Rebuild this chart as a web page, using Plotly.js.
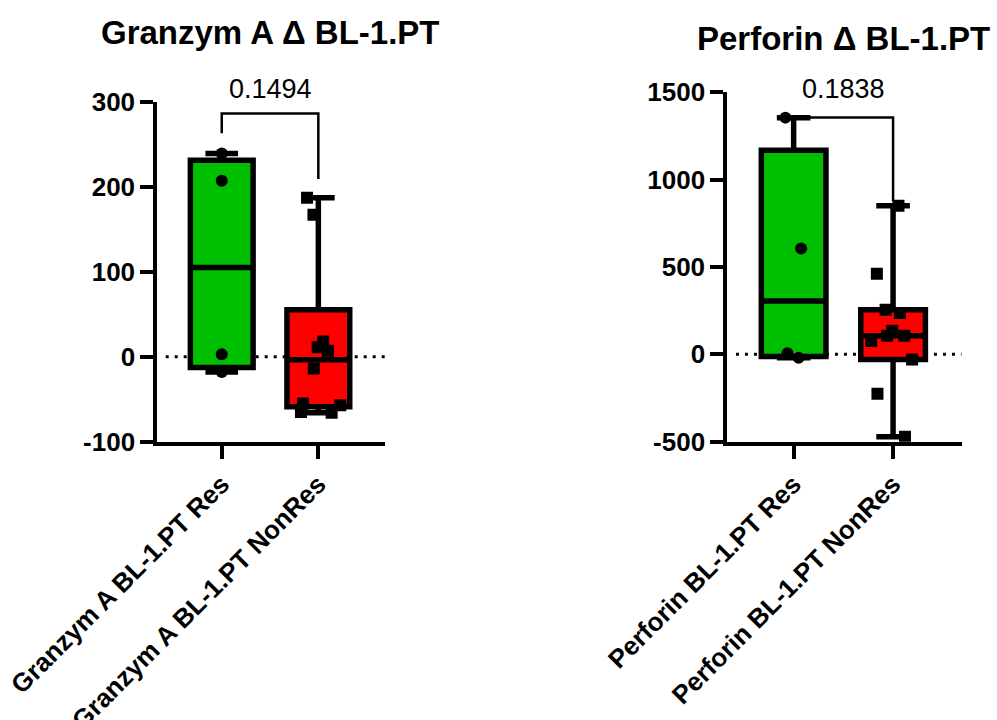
<!DOCTYPE html>
<html>
<head>
<meta charset="utf-8">
<script src="https://cdn.plot.ly/plotly-3.0.1.min.js"></script>
<style>html,body{margin:0;padding:0;background:#fff;}#chart{width:997px;height:720px;}</style>
</head>
<body>
<div id="chart"></div>
<script>
// ---- data ----
const granzymCategories = ['Granzym A BL-1.PT Res', 'Granzym A BL-1.PT NonRes'];
const perforinCategories = ['Perforin BL-1.PT Res', 'Perforin BL-1.PT NonRes'];
const granzymRes = [239, 207, 3, -18];
const granzymNonRes = [187, 167, 18, 11, 7, -14, -55, -57, -65, -66];
const perforinRes = [1355, 606, 6, -19];
const perforinNonRes = [850, 462, 256, 237, 135, 106, 106, 77, -29, -225, -471];
const granzymTickVals = [-100, 0, 100, 200, 300];
const granzymTickText = ['-100', '0', '100', '200', '300'];
const perforinTickVals = [-500, 0, 500, 1000, 1500];
const perforinTickText = ['-500', '0', '500', '1000', '1500'];
const granzymPValue = '0.1494';
const perforinPValue = '0.1838';
const granzymTitle = 'Granzym A \u0394 BL-1.PT';
const perforinTitle = 'Perforin \u0394 BL-1.PT';

// ---- stats (percentiles by the (n+1)p rule) ----
function pct(arr, p) {
  const s = arr.slice().sort((a, b) => a - b);
  const n = s.length;
  const h = (n + 1) * p;
  if (h <= 1) return s[0];
  if (h >= n) return s[n - 1];
  const lo = Math.floor(h);
  return s[lo - 1] + (h - lo) * (s[lo] - s[lo - 1]);
}
function stats(arr) {
  return {q1: pct(arr, 0.25), med: pct(arr, 0.5), q3: pct(arr, 0.75),
          lo: Math.min(...arr), hi: Math.max(...arr)};
}

const GREEN = 'rgb(0,190,0)';
const RED = 'rgb(255,0,0)';
const BOXW = 0.65;

function boxTrace(cat, vals, fill, xa, ya) {
  const s = stats(vals);
  return {
    type: 'box', x: [cat], q1: [s.q1], median: [s.med], q3: [s.q3],
    lowerfence: [s.lo], upperfence: [s.hi],
    fillcolor: fill, line: {color: 'black', width: 5.5},
    whiskerwidth: 0.52, width: BOXW, boxpoints: false,
    xaxis: xa, yaxis: ya, showlegend: false, hoverinfo: 'skip'
  };
}
function ptsTrace(cat, vals, symbol, jitter, xa, ya) {
  return {
    type: 'box', x: vals.map(() => cat), y: vals,
    fillcolor: 'rgba(0,0,0,0)', line: {color: 'rgba(0,0,0,0)', width: 0},
    boxpoints: 'all', jitter: jitter, pointpos: 0, width: BOXW,
    marker: {symbol: symbol, size: 12, color: 'black'},
    xaxis: xa, yaxis: ya, showlegend: false
  };
}

const data = [
  boxTrace(granzymCategories[0], granzymRes, GREEN, 'x', 'y'),
  boxTrace(granzymCategories[1], granzymNonRes, RED, 'x', 'y'),
  ptsTrace(granzymCategories[0], granzymRes, 'circle', 0.0, 'x', 'y'),
  ptsTrace(granzymCategories[1], granzymNonRes, 'square', 0.9, 'x', 'y'),
  boxTrace(perforinCategories[0], perforinRes, GREEN, 'x2', 'y2'),
  boxTrace(perforinCategories[1], perforinNonRes, RED, 'x2', 'y2'),
  ptsTrace(perforinCategories[0], perforinRes, 'circle', 0.3, 'x2', 'y2'),
  ptsTrace(perforinCategories[1], perforinNonRes, 'square', 0.8, 'x2', 'y2')
];

const FONT = 'Arial, "Liberation Sans", sans-serif';
const tickFont = {family: FONT, size: 26, color: 'black', weight: 'bold'};

function xAxis(domain, cats) {
  return {
    domain: domain, type: 'category', categoryorder: 'array', categoryarray: cats,
    range: [-0.667, 1.69], showline: true, linewidth: 4, linecolor: 'black',
    ticks: 'outside', ticklen: 13, tickwidth: 4, tickcolor: 'black',
    tickangle: -45, tickfont: tickFont, showgrid: false, zeroline: false, fixedrange: true
  };
}
function yAxis(domain, range, vals, text, anchor) {
  return {
    domain: domain, range: range, tickmode: 'array', tickvals: vals, ticktext: text, anchor: anchor,
    showline: true, linewidth: 4, linecolor: 'black',
    ticks: 'outside', ticklen: 13, tickwidth: 4, tickcolor: 'black',
    tickfont: tickFont, showgrid: false, zeroline: false, fixedrange: true
  };
}

const W = 997, H = 720;
const layout = {
  width: W, height: H, autosize: false,
  margin: {l: 0, r: 0, t: 0, b: 0},
  paper_bgcolor: 'white', plot_bgcolor: 'white',
  boxmode: 'overlay', showlegend: false,
  xaxis: Object.assign(xAxis([157.3 / W, 385 / W], granzymCategories), {anchor: 'y'}),
  yaxis: yAxis([1 - 441.7 / H, 1 - 101.7 / H], [-100, 300], granzymTickVals, granzymTickText, 'x'),
  xaxis2: Object.assign(xAxis([727.3 / W, 961.7 / W], perforinCategories), {anchor: 'y2'}),
  yaxis2: yAxis([1 - 441.7 / H, 1 - 92.3 / H], [-500, 1500], perforinTickVals, perforinTickText, 'x2'),
  shapes: [
    {type: 'line', layer: 'below', xref: 'x', yref: 'y', x0: -0.58, x1: 1.69, y0: 0, y1: 0,
     line: {color: 'black', width: 3, dash: '3px,6px'}},
    {type: 'line', layer: 'below', xref: 'x2', yref: 'y2', x0: -0.58, x1: 1.69, y0: 0, y1: 0,
     line: {color: 'black', width: 3, dash: '3px,6px'}},
    {type: 'path', xref: 'x', yref: 'y', path: 'M0,263 L0,286 L1,286 L1,209',
     line: {color: 'black', width: 2.5}},
    {type: 'path', xref: 'x2', yref: 'y2', path: 'M0,1356 L1,1356 L1,875',
     line: {color: 'black', width: 2.5}}
  ],
  annotations: [
    {text: granzymTitle, xref: 'paper', yref: 'paper', x: 270 / W, y: 1 - 33 / H,
     xanchor: 'center', yanchor: 'middle', showarrow: false,
     font: {family: FONT, size: 33, color: 'black', weight: 'bold'}},
    {text: perforinTitle, xref: 'paper', yref: 'paper', x: 843 / W, y: 1 - 38 / H,
     xanchor: 'center', yanchor: 'middle', showarrow: false,
     font: {family: FONT, size: 33, color: 'black', weight: 'bold'}},
    {text: granzymPValue, xref: 'x', yref: 'y', x: 0.5, y: 286, yshift: 25,
     xanchor: 'center', yanchor: 'middle', showarrow: false,
     font: {family: FONT, size: 27, color: 'black'}},
    {text: perforinPValue, xref: 'x2', yref: 'y2', x: 0.5, y: 1356, yshift: 28,
     xanchor: 'center', yanchor: 'middle', showarrow: false,
     font: {family: FONT, size: 27, color: 'black'}}
  ]
};

Plotly.newPlot('chart', data, layout, {staticPlot: true, displayModeBar: false});
</script>
</body>
</html>
